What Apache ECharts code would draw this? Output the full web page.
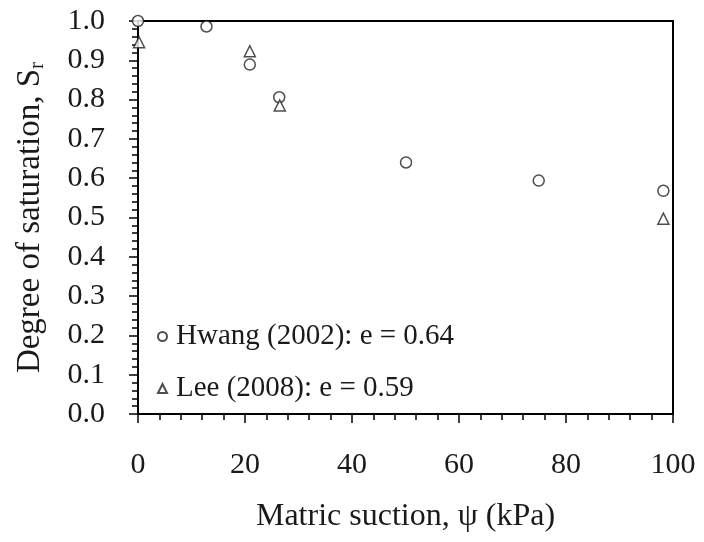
<!DOCTYPE html>
<html>
<head>
<meta charset="utf-8">
<script src="https://cdn.jsdelivr.net/npm/echarts@6/dist/echarts.min.js"></script>
<style>
  html, body { margin: 0; padding: 0; background: #fff; }
  #chart { width: 704px; height: 542px; }
</style>
</head>
<body>
<div id="chart"></div>
<script>
  // Hwang (2002), e = 0.64
  var hwangSuction = [0, 12.8, 20.9, 26.4, 50.1, 74.9, 98.2];
  var hwangSr = [1.0, 0.986, 0.889, 0.806, 0.640, 0.594, 0.568];
  // Lee (2008), e = 0.59
  var leeSuction = [0.2, 20.9, 26.5, 98.2];
  var leeSr = [0.946, 0.923, 0.785, 0.497];

  var seriesNames = ['Hwang (2002): e = 0.64', 'Lee (2008): e = 0.59'];
  var xTicks = [0, 20, 40, 60, 80, 100];
  var yTicks = [0.0, 0.1, 0.2, 0.3, 0.4, 0.5, 0.6, 0.7, 0.8, 0.9, 1.0];

  function pairs(xs, ys) {
    var out = [];
    for (var i = 0; i < xs.length; i++) {
      out.push([xs[i], ys[i]]);
    }
    return out;
  }

  var font = 'Liberation Serif';
  var ink = '#1a1a1a';

  var chart = echarts.init(document.getElementById('chart'));
  chart.setOption({
    animation: false,
    backgroundColor: '#fff',
    grid: {
      left: 138, right: 31, top: 21, bottom: 128,
      show: true,
      borderColor: '#000',
      borderWidth: 2
    },
    legend: {
      orient: 'vertical',
      left: 152,
      top: 317,
      itemWidth: 9,
      itemHeight: 9,
      itemGap: 23,
      data: seriesNames,
      textStyle: { fontFamily: font, fontSize: 29, color: ink, padding: [0, 0, 0, 4] }
    },
    xAxis: {
      type: 'value',
      min: xTicks[0],
      max: xTicks[xTicks.length - 1],
      interval: 20,
      name: 'Matric suction, \u03c8 (kPa)',
      nameLocation: 'middle',
      nameGap: 87,
      nameTextStyle: { fontFamily: font, fontSize: 32, color: ink },
      axisLine: { lineStyle: { color: '#000', width: 2 } },
      axisTick: { inside: false, length: 9, lineStyle: { color: '#000', width: 1.5 } },
      minorTick: { show: true, splitNumber: 5, length: 6, lineStyle: { color: '#000', width: 1.5 } },
      splitLine: { show: false },
      axisLabel: {
        margin: 36,
        fontFamily: font, fontSize: 30, color: ink
      }
    },
    yAxis: {
      type: 'value',
      min: yTicks[0],
      max: yTicks[yTicks.length - 1],
      interval: 0.1,
      name: '{n|Degree of saturation, S}{s|r}',
      nameLocation: 'middle',
      nameRotate: 90,
      nameGap: 90,
      nameTextStyle: {
        fontFamily: font, fontSize: 33, color: ink,
        rich: {
          n: { fontFamily: font, fontSize: 33, color: ink },
          s: { fontFamily: font, fontSize: 21, color: ink, verticalAlign: 'bottom', padding: [14, 0, 0, 0] }
        }
      },
      axisLine: { lineStyle: { color: '#000', width: 2 } },
      axisTick: { inside: false, length: 9, lineStyle: { color: '#000', width: 1.5 } },
      minorTick: { show: true, splitNumber: 5, length: 6, lineStyle: { color: '#000', width: 1.5 } },
      splitLine: { show: false },
      axisLabel: {
        margin: 33,
        fontFamily: font, fontSize: 30, color: ink,
        formatter: function (v) { return v.toFixed(1); }
      }
    },
    series: [
      {
        name: seriesNames[0],
        type: 'scatter',
        symbol: 'circle',
        symbolSize: 11,
        itemStyle: { color: '#fff', borderColor: '#222', borderWidth: 1.5 },
        data: pairs(hwangSuction, hwangSr)
      },
      {
        name: seriesNames[1],
        type: 'scatter',
        symbol: 'triangle',
        symbolSize: 11,
        itemStyle: { color: '#fff', borderColor: '#222', borderWidth: 1.5 },
        data: pairs(leeSuction, leeSr)
      }
    ]
  });
</script>
</body>
</html>
